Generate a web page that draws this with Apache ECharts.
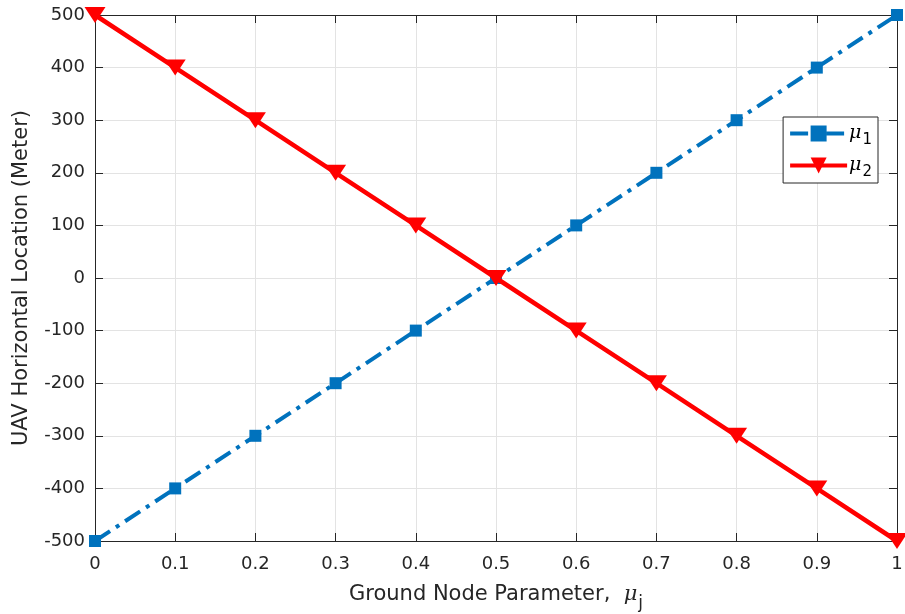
<!DOCTYPE html>
<html><head><meta charset="utf-8">
<script src="https://cdn.jsdelivr.net/npm/echarts@6/dist/echarts.min.js"></script>
<style>html,body{margin:0;padding:0;background:#fff}#c{width:905px;height:614px}</style>
</head><body><div id="c"></div>
<script>
const xValues = [0, 0.1, 0.2, 0.3, 0.4, 0.5, 0.6, 0.7, 0.8, 0.9, 1];
const mu1 = [-500, -400, -300, -200, -100, 0, 100, 200, 300, 400, 500];
const mu2 = [500, 400, 300, 200, 100, 0, -100, -200, -300, -400, -500];
const seriesNames = ['mu1', 'mu2'];

const font = 'DejaVu Sans, sans-serif';
const axisColor = '#262626';
const rich = {
  mu: {fontStyle: 'italic', fontSize: 19, fontFamily: 'DejaVu Serif, serif', color: '#000'},
  sub: {fontSize: 15, fontFamily: font, color: '#000', padding: [14, 0, 0, 1]}
};
const chart = echarts.init(document.getElementById('c'));
chart.setOption({
  animation: false,
  grid: {left: 95, right: 8, top: 15, bottom: 73, show: false, containLabel: false, outerBoundsMode: 'none'},
  legend: {
    right: 27, top: 117, orient: 'vertical',
    backgroundColor: '#fff', borderColor: '#262626', borderWidth: 1,
    padding: [7, 6, 3, 5], itemGap: 8, itemWidth: 57, itemHeight: 20,
    lineStyle: {width: 4},
    data: seriesNames,
    formatter: n => n === 'mu1' ? '{mu|μ}{sub|1}' : '{mu|μ}{sub|2}',
    textStyle: {rich: rich, padding: [0, 0, 0, -3]}
  },
  xAxis: [{
    type: 'value', min: 0, max: 1, interval: 0.1, position: 'bottom',
    axisLine: {show: true, onZero: false, lineStyle: {color: axisColor, width: 1}},
    axisTick: {show: true, inside: true, length: 8, lineStyle: {color: axisColor}},
    axisLabel: {color: '#262626', fontSize: 18, fontFamily: font, margin: 14,
      formatter: v => String(Math.round(v * 10) / 10)},
    splitLine: {show: true, lineStyle: {color: '#e3e3e3', width: 1}},
    name: 'Ground Node Parameter,  {mu|μ}{sub|j}',
    nameLocation: 'middle', nameGap: 36,
    nameTextStyle: {color: '#262626', fontSize: 21, fontFamily: font,
      rich: {mu: {fontStyle: 'italic', fontSize: 21, fontFamily: 'DejaVu Serif, serif', color: '#262626'},
             sub: {fontSize: 17, fontFamily: font, color: '#262626', padding: [18, 0, 0, 1]}}}
  }, {
    type: 'value', min: 0, max: 1, interval: 0.1, position: 'top',
    axisLine: {show: true, onZero: false, lineStyle: {color: axisColor, width: 1}},
    axisTick: {show: true, inside: true, length: 8, lineStyle: {color: axisColor}},
    axisLabel: {show: false}, splitLine: {show: false}
  }],
  yAxis: [{
    type: 'value', min: -500, max: 500, interval: 100, position: 'left',
    axisLine: {show: true, onZero: false, lineStyle: {color: axisColor, width: 1}},
    axisTick: {show: true, inside: true, length: 8, lineStyle: {color: axisColor}},
    axisLabel: {color: '#262626', fontSize: 18, fontFamily: font, margin: 10},
    splitLine: {show: true, lineStyle: {color: '#e3e3e3', width: 1}},
    name: 'UAV Horizontal Location (Meter)', nameLocation: 'middle', nameGap: 63,
    nameTextStyle: {color: '#262626', fontSize: 21, fontFamily: font}
  }, {
    type: 'value', min: -500, max: 500, interval: 100, position: 'right',
    axisLine: {show: true, onZero: false, lineStyle: {color: axisColor, width: 1}},
    axisTick: {show: true, inside: true, length: 8, lineStyle: {color: axisColor}},
    axisLabel: {show: false}, splitLine: {show: false}
  }],
  series: [{
    name: 'mu1', type: 'line',
    data: xValues.map((x, i) => [x, mu1[i]]),
    symbol: 'rect', symbolSize: 12,
    itemStyle: {color: '#0072BD'},
    lineStyle: {color: '#0072BD', width: 4, type: [18, 7, 4, 7]},
    z: 3
  }, {
    name: 'mu2', type: 'line',
    data: xValues.map((x, i) => [x, mu2[i]]),
    symbol: 'triangle', symbolRotate: 180, symbolSize: [21, 16],
    itemStyle: {color: '#FF0000'},
    lineStyle: {color: '#FF0000', width: 4.5},
    z: 4
  }]
});
</script></body></html>
